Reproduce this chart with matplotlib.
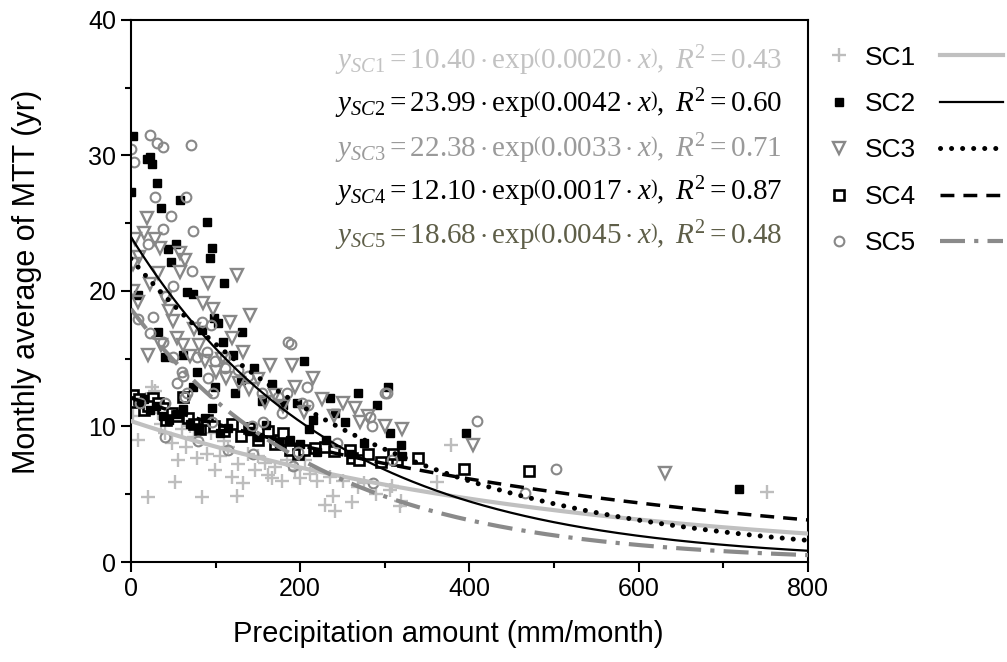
import numpy as np
import matplotlib
matplotlib.use("Agg")
import matplotlib.pyplot as plt
from matplotlib.lines import Line2D

plt.rcParams['font.family'] = ['Liberation Sans', 'DejaVu Sans']
plt.rcParams['mathtext.fontset'] = 'custom'
plt.rcParams['mathtext.rm'] = 'Liberation Serif'
plt.rcParams['mathtext.it'] = 'Liberation Serif:italic'

# observed monthly points (precipitation mm/month, MTT yr)
sc1_x = [2, 8, 12, 18, 20, 25, 28, 32, 35, 40, 45, 48, 52, 56, 60, 65, 70, 75, 78, 84,
         90, 95, 99, 105, 110, 115, 119, 125, 126, 132, 138, 147, 150, 158, 162, 167, 170,
         178, 185, 194, 200, 206, 212, 220, 229, 235, 239, 241, 250, 261, 268, 275, 290,
         306, 308, 318, 319, 362, 378, 752]
sc1_y = [10.8, 9.0, 11.5, 12.0, 4.8, 12.9, 12.6, 11.0, 10.2, 9.5, 10.5, 8.8, 5.9, 7.5, 9.8,
         8.5, 10.0, 9.2, 7.7, 4.8, 8.0, 9.5, 6.8, 7.8, 8.9, 8.5, 6.3, 4.9, 7.2, 5.8, 8.0,
         6.8, 7.8, 7.3, 6.4, 6.2, 7.0, 6.0, 7.5, 6.8, 6.2, 7.5, 6.5, 6.0, 4.2, 6.3, 4.9,
         3.8, 6.0, 4.4, 5.5, 5.8, 5.0, 5.3, 5.6, 4.1, 4.5, 5.9, 8.6, 5.2]

sc2_x = [2, 19, 23, 25, 31, 0, 36, 58, 90, 96, 93, 53, 44, 47, 110, 66, 73, 8, 32, 98, 103,
         84, 131, 109, 121, 61, 40, 73, 99, 123, 167, 196, 96, 235, 268, 291, 304, 306, 319,
         241, 253, 188, 396, 718, 320, 10, 15, 22, 30, 38, 45, 55, 62, 70, 80, 88, 105, 115,
         140, 150, 160, 175, 200, 210, 220, 230, 260, 275, 145, 155, 180, 205, 215, 78, 130]
sc2_y = [31.4, 29.7, 29.9, 29.4, 28.0, 27.3, 26.1, 26.7, 25.1, 23.2, 22.4, 23.5, 23.1, 22.1,
         20.6, 19.9, 19.8, 19.7, 17.0, 18.0, 17.6, 17.1, 17.0, 16.2, 15.3, 15.3, 15.1, 12.9,
         12.9, 12.5, 13.1, 11.7, 11.4, 12.1, 12.5, 11.6, 12.9, 9.5, 8.6, 11.0, 10.3, 9.0,
         9.5, 5.4, 7.8, 11.8, 12.0, 11.2, 11.5, 10.8, 10.5, 10.9, 11.3, 10.2, 9.8, 10.6,
         9.5, 9.9, 9.7, 9.2, 10.1, 8.8, 8.7, 9.8, 8.1, 9.0, 8.0, 8.8, 14.3, 11.9, 11.6,
         14.8, 10.5, 14.0, 13.4]

sc3_x = [19, 15, 5, 28, 34, 58, 64, 125, 91, 8, 32, 58, 85, 97, 117, 141, 119, 132, 164,
         190, 215, 194, 226, 251, 271, 320, 404, 631, 2, 10, 22, 40, 45, 50, 55, 62, 70, 75,
         80, 88, 100, 108, 112, 128, 140, 150, 158, 170, 180, 205, 240, 265, 280, 300, 20,
         35, 3]
sc3_y = [25.4, 24.3, 23.8, 23.8, 23.2, 22.8, 22.3, 21.2, 20.6, 19.2, 21.3, 21.4, 19.1, 18.7,
         17.7, 18.2, 16.5, 15.5, 14.5, 14.5, 13.6, 12.9, 12.0, 11.7, 10.3, 9.8, 8.6, 6.6,
         20.0, 22.5, 20.5, 19.5, 18.5, 17.8, 16.5, 16.0, 15.2, 17.2, 16.0, 14.8, 14.0,
         15.0, 13.6, 13.2, 12.8, 13.5, 11.8, 12.3, 11.5, 11.1, 10.8, 11.4, 10.8, 10.0,
         15.3, 16.0, 22.0]

sc4_x = [2, 26, 32, 38, 48, 61, 162, 176, 188, 197, 217, 229, 259, 261, 314, 339, 393, 470,
         310, 5, 10, 15, 20, 42, 55, 68, 75, 82, 90, 98, 110, 120, 130, 140, 150, 170, 180,
         205, 240, 270, 280, 295]
sc4_y = [12.3, 12.1, 11.7, 11.4, 11.0, 12.2, 9.7, 9.0, 8.3, 8.0, 8.4, 8.5, 8.3, 7.7, 7.5,
         7.7, 6.9, 6.7, 8.0, 11.8, 12.0, 11.2, 11.5, 10.5, 10.8, 10.6, 10.2, 9.8, 10.5,
         10.0, 9.7, 10.2, 9.3, 9.9, 9.0, 8.7, 9.5, 8.3, 8.2, 7.5, 8.0, 7.4]

sc5_x = [0, 22, 31, 38, 71, 3.5, 28, 65, 47, 38, 73, 20, 189, 185, 303, 409, 502, 300, 308,
         466, 8, 26, 22, 38, 42, 50, 72, 84, 95, 50, 60, 78, 90, 99, 111, 61, 91, 64, 97,
         111, 126, 138, 155, 174, 202, 186, 11, 40, 54, 79, 115, 144, 191, 197, 243, 286,
         282, 285, 208, 209, 178, 156, 143, 96, 40, 66]
sc5_y = [30.5, 31.5, 30.9, 30.6, 30.8, 29.5, 26.9, 26.9, 25.5, 24.6, 24.4, 23.5, 16.1, 12.5,
         12.5, 10.4, 6.9, 12.5, 7.5, 5.1, 17.9, 18.1, 16.9, 16.2, 19.6, 20.4, 21.5, 17.7,
         17.5, 15.1, 14.0, 15.1, 15.5, 14.8, 15.1, 13.7, 13.6, 12.2, 12.5, 14.3, 14.2,
         13.7, 12.5, 12.2, 11.7, 16.2, 11.7, 9.2, 13.2, 8.9, 8.3, 8.0, 7.1, 8.1, 8.8, 5.8,
         10.7, 10.0, 12.9, 11.6, 11.0, 10.3, 10.0, 10.3, 11.7, 12.5]

# fitted exponential models y = a * exp(-b * x)
fit_a = [10.40, 23.99, 22.38, 12.10, 18.68]
fit_b = [0.0020, 0.0042, 0.0033, 0.0017, 0.0045]
fit_r2 = [0.43, 0.60, 0.71, 0.87, 0.48]
names = ['SC1', 'SC2', 'SC3', 'SC4', 'SC5']

fig = plt.figure(figsize=(10.07, 6.62), dpi=100)
ax = fig.add_axes([0.130, 0.151, 0.6724, 0.819])

mk = [dict(marker='+', ms=10, mew=1.7, color='#bdbdbd', mfc='#bdbdbd'),
      dict(marker='s', ms=5.5, mew=1, color='black', mfc='black'),
      dict(marker='v', ms=8.5, mew=1.7, color='#888888', mfc='none'),
      dict(marker='s', ms=6.5, mew=1.9, color='black', mfc='white'),
      dict(marker='o', ms=7, mew=1.5, color='#888888', mfc='none')]
lines = [dict(color='#c0c0c0', lw=3, ls='-'),
         dict(color='black', lw=1.6, ls='-'),
         dict(color='black', lw=3.6, ls=(0, (0.01, 2.2)), dash_capstyle='round'),
         dict(color='black', lw=2.5, ls=(0, (4.0, 2.6))),
         dict(color='#8a8a8a', lw=3, ls=(0, (6, 2.2, 1, 2.2)))]

data = [(sc1_x, sc1_y), (sc2_x, sc2_y), (sc3_x, sc3_y), (sc4_x, sc4_y), (sc5_x, sc5_y)]
order = [0, 3, 1, 4, 2]
for i in order:
    ax.plot(data[i][0], data[i][1], ls='none', zorder=2, **mk[i])

xx = np.linspace(0, 800, 400)
for i in range(5):
    ax.plot(xx, fit_a[i] * np.exp(-fit_b[i] * xx), zorder=3, **lines[i])

eq_colors = ['#c2c2c2', 'black', '#9a9a9a', 'black', '#5e5e48']
eq_y = [37.0, 33.8, 30.5, 27.3, 24.1]
for i in range(5):
    s = (r'$y_{%s} = %.2f\cdot\mathrm{exp}\left(%.4f\cdot x\right),\ R^2 = %.2f$'
         % (names[i], fit_a[i], fit_b[i], fit_r2[i]))
    ax.text(241, eq_y[i], s, color=eq_colors[i], fontsize=21, va='center', ha='left')

ax.set_xlim(0, 800)
ax.set_ylim(0, 40)
ax.set_xticks([0, 200, 400, 600, 800])
ax.set_xticks([100, 300, 500, 700], minor=True)
ax.set_yticks([0, 10, 20, 30, 40])
ax.set_yticks([5, 15, 25, 35], minor=True)
ax.tick_params(which='major', direction='out', length=7, width=1.5, labelsize=18)
ax.tick_params(which='minor', direction='out', length=4, width=1.5)
for sp in ax.spines.values():
    sp.set_linewidth(1.5)
ax.set_xlabel('Precipitation amount (mm/month)', fontsize=21)
ax.set_ylabel('Monthly average of MTT (yr)', fontsize=22)
ax.xaxis.set_label_coords(0.468, -0.107)
ax.yaxis.set_label_coords(-0.131, 0.517)

mh = [Line2D([], [], ls='none', **mk[i]) for i in range(5)]
lh = [Line2D([], [], **lines[i]) for i in range(5)]
fig.legend(mh, names, loc='upper left', bbox_to_anchor=(0.796, 0.967), frameon=False,
           fontsize=19, handlelength=1.0, handletextpad=0.5, labelspacing=0.85)
fig.legend(lh, [''] * 5, loc='upper left', bbox_to_anchor=(0.9096, 0.967), frameon=False,
           fontsize=19, handlelength=2.4, handletextpad=0, labelspacing=0.85)

fig.savefig('out.png', dpi=100)
